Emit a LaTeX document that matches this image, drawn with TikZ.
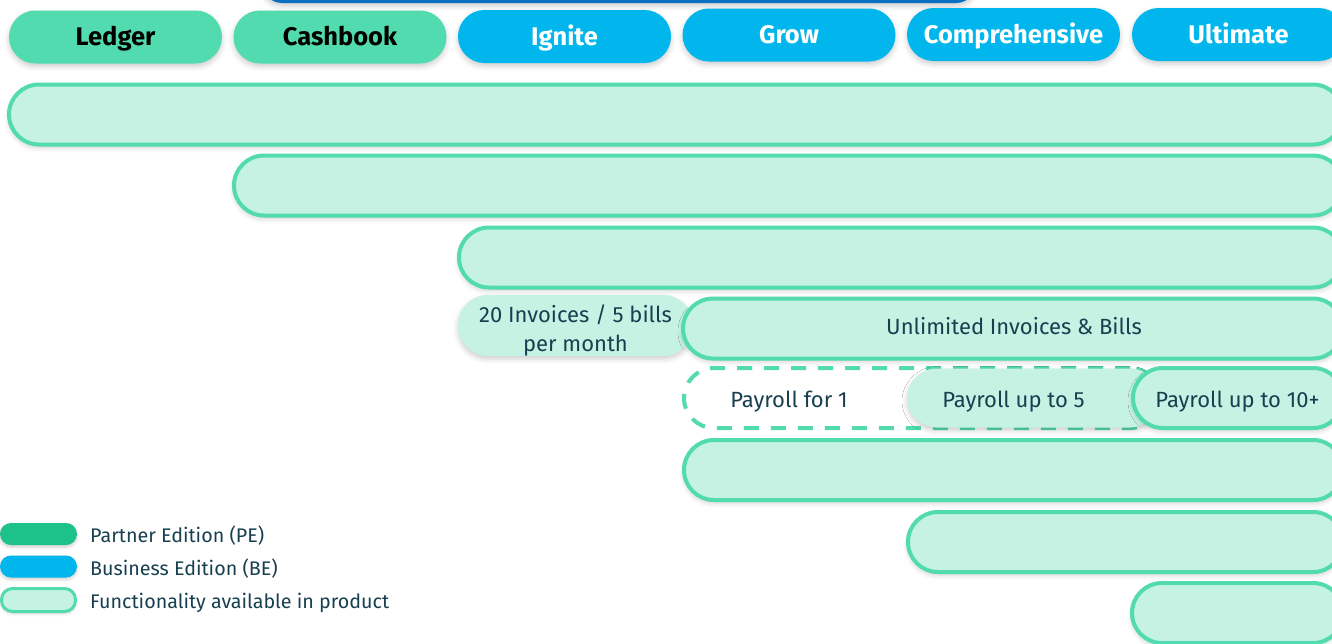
\documentclass[tikz,border=0pt]{standalone}
\usepackage{fontspec}
\setmainfont{Fira Sans}
\usetikzlibrary{shadows.blur}

\definecolor{hdrgreen}{HTML}{52DBAF}
\definecolor{beblue}{HTML}{00B6EC}
\definecolor{rowfill}{HTML}{C6F2E4}
\definecolor{rowline}{HTML}{52DBAF}
\definecolor{ink}{HTML}{173F50}
\definecolor{pegreen}{HTML}{1DC28A}
\definecolor{topblue}{HTML}{0B6FC0}

\tikzset{
  softshadow/.style={blur shadow={shadow xshift=0pt, shadow yshift=-3pt,
      shadow blur radius=5pt, shadow opacity=20}},
  % text boxes sized to the cap height, so capitals sit on the node centre
  header/.style={rectangle, rounded corners=26.5pt, minimum width=213pt,
      minimum height=53pt, inner sep=0pt,
      font=\bfseries\fontsize{25.5}{28}\selectfont,
      text height=17.6pt, text depth=0pt, softshadow},
  pehead/.style={header, fill=hdrgreen, text=black},
  behead/.style={header, fill=beblue, text=white},
  feature/.style={rectangle, rounded corners=30pt, minimum height=60pt,
      draw=rowline, line width=4pt, fill=rowfill, inner sep=0pt, softshadow},
  tierfill/.style={rectangle, rounded corners=30pt, minimum height=60pt,
      fill=rowfill, inner sep=0pt, softshadow},
  tierdash/.style={rectangle, rounded corners=30pt, minimum height=60pt,
      draw=rowline, line width=4pt, dash pattern=on 15pt off 12pt,
      fill=white, inner sep=0pt},
  label/.style={text=ink, inner sep=0pt, font=\fontsize{22}{26}\selectfont,
      text height=15.2pt, text depth=0pt},
  keytext/.style={text=ink, inner sep=0pt, anchor=west,
      font=\fontsize{19.7}{24}\selectfont, text height=13.6pt, text depth=0pt},
  keypill/.style={rectangle, rounded corners=11pt, minimum width=77pt,
      minimum height=22pt, inner sep=0pt,
      blur shadow={shadow xshift=0pt, shadow yshift=-2pt,
      shadow blur radius=3pt, shadow opacity=20}},
}

\begin{document}
\begin{tikzpicture}[x=1pt, y=-1pt]
\useasboundingbox (0,0) rectangle (1332,643);
\clip (0,0) rectangle (1332,643);

% bar running off the top edge
\node[rectangle, rounded corners=20pt, minimum width=714pt, minimum height=50pt,
      fill=topblue, softshadow] (topbar) at (619,-22) {};

% product tiers
\node[pehead] (ledger)   at (115.5,37)   {Ledger};
\node[pehead] (cashbook) at (340,37)     {Cashbook};
\node[behead] (ignite)   at (564.5,36.5) {Ignite};
\node[behead] (grow)     at (789,35)     {Grow};
\node[behead] (compr)    at (1013.5,34.5) {Comprehensive};
\node[behead] (ultimate) at (1238.5,34.5) {Ultimate};

% functionality rows
\node[feature, minimum width=1334pt] (row1) at (676,114.5) {};
\node[feature, minimum width=1109pt] (row2) at (788.5,185.5) {};
\node[feature, minimum width=884pt]  (row3) at (901,257.5) {};

\node[tierfill, minimum width=235pt, minimum height=61pt] (inv20) at (575.5,325.5) {};
\node[label, align=center, font=\fontsize{22}{29}\selectfont,
      text height=44.2pt] (inv20txt)
      at (575.5,329) {20 Invoices / 5 bills\\per month};
\node[feature, minimum width=660pt] (invall) at (1013,328.5) {};
\node[label] (invalltxt) at (1014,326.5) {Unlimited Invoices \& Bills};

\node[tierdash, minimum width=476pt] (pay1) at (922,398) {};
\node[label] (pay1txt) at (789,400) {Payroll for 1};
\node[tierfill, minimum width=253pt, minimum height=59pt] (pay5) at (1033.5,398) {};
\node[label] (pay5txt) at (1013.5,400) {Payroll up to 5};
\node[feature, minimum width=210pt] (pay10) at (1238,398) {};
\node[label] (pay10txt) at (1237.5,400) {Payroll up to 10+};

\node[feature, minimum width=659pt] (row6) at (1013.5,470) {};
\node[feature, minimum width=435pt] (row7) at (1125.5,542) {};
\node[feature, minimum width=211pt] (row8) at (1237.5,613) {};

% key
\node[keypill, fill=pegreen] (keype) at (38.5,534) {};
\node[keypill, fill=beblue]  (keybe) at (38.5,566.5) {};
\node[keypill, fill=rowfill, draw=rowline, line width=3pt,
      minimum width=74pt, minimum height=23pt] (keyfn) at (38.5,600) {};
\node[keytext] (keypetxt) at (90,535.5) {Partner Edition (PE)};
\node[keytext] (keybetxt) at (90,569)   {Business Edition (BE)};
\node[keytext] (keyfntxt) at (90,602)   {Functionality available in product};
\end{tikzpicture}
\end{document}
